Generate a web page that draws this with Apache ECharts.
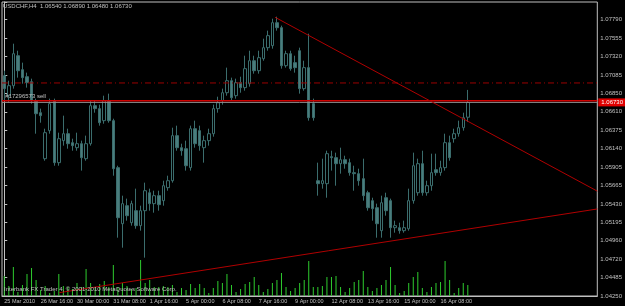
<!DOCTYPE html>
<html><head><meta charset="utf-8">
<script src="https://cdn.jsdelivr.net/npm/echarts@6/dist/echarts.min.js"></script>
<style>html,body{margin:0;padding:0;background:#000;}#c{width:625px;height:306px;}</style>
</head><body><div id="c"></div>
<script>
const chartTitle = 'USDCHF,H4  1.06540 1.06890 1.06480 1.06730';
const footerText = 'Interbank FX Trader 4, \u00A9 2001-2010 MetaQuotes Software Corp.';
const tickLabels = ['25 Mar 2010','26 Mar 16:00','30 Mar 00:00','31 Mar 08:00','1 Apr 16:00','5 Apr 00:00','6 Apr 08:00','7 Apr 16:00','9 Apr 00:00','12 Apr 08:00','13 Apr 16:00','15 Apr 00:00','16 Apr 08:00'];
const priceTicks = ['1.04250','1.04485','1.04720','1.04960','1.05195','1.05430','1.05665','1.05905','1.06140','1.06375','1.06610','1.06850','1.07085','1.07320','1.07555','1.07790'];

const opens = [1.07072,1.06816,1.06944,1.07328,1.07149,1.07059,1.06995,1.06752,1.06598,1.06009,
1.06368,1.06752,1.05958,1.06240,1.06329,1.06214,1.06150,1.06201,1.06009,1.06201,
1.06688,1.06650,1.06496,1.06752,1.06496,1.05894,1.05176,1.05407,1.05189,1.05343,
1.05151,1.05343,1.05573,1.05433,1.05535,1.05471,1.05638,1.05727,1.06304,1.06150,
1.06137,1.05894,1.06393,1.06368,1.06150,1.06240,1.06329,1.06650,1.06752,1.06854,
1.07008,1.06816,1.06983,1.06919,1.06970,1.07264,1.07136,1.07290,1.07431,1.07457,
1.07751,1.07687,1.07200,1.07354,1.07239,1.07392,1.06906,1.07175,1.06714,1.05727,
1.05689,1.05689,1.06035,1.06022,1.05945,1.05996,1.05958,1.05830,1.05817,1.05753,
1.05573,1.05471,1.05381,1.05087,1.05509,1.05471,1.05125,1.05125,1.05087,1.05112,
1.05471,1.05573,1.05945,1.05573,1.05663,1.05868,1.05830,1.05894,1.06214,1.06265,
1.06329,1.06406,1.06540];
const closes = [1.06906,1.06944,1.07354,1.07136,1.07047,1.06983,1.06752,1.06585,1.06560,1.06342,
1.06714,1.05958,1.06265,1.06329,1.06201,1.06176,1.06201,1.06022,1.06201,1.06688,
1.06650,1.06470,1.06752,1.06496,1.05881,1.05253,1.05433,1.05279,1.05433,1.05151,
1.05343,1.05599,1.05433,1.05535,1.05420,1.05663,1.05727,1.06304,1.06150,1.06111,
1.05919,1.06393,1.06201,1.06176,1.06240,1.06329,1.06650,1.06726,1.06854,1.07008,
1.06790,1.06983,1.06919,1.07162,1.07264,1.07136,1.07303,1.07431,1.07585,1.07751,
1.07687,1.07200,1.07354,1.07162,1.07175,1.06906,1.07175,1.06534,1.06534,1.05689,
1.05727,1.06073,1.06022,1.05945,1.05996,1.05945,1.05830,1.05817,1.05727,1.05535,
1.05381,1.05369,1.05176,1.05445,1.05343,1.05125,1.05151,1.05087,1.05125,1.05471,
1.05919,1.05945,1.05573,1.05663,1.05830,1.05830,1.05894,1.06214,1.06022,1.06329,
1.06406,1.06534,1.06730];
const lows = [1.06752,1.06726,1.06906,1.07047,1.06970,1.06919,1.06714,1.06329,1.06470,1.05983,
1.06329,1.05919,1.05919,1.06176,1.06137,1.06111,1.06111,1.05856,1.05983,1.06176,
1.06598,1.06432,1.06457,1.06470,1.05791,1.04997,1.04869,1.05215,1.05151,1.05112,
1.05087,1.04741,1.05343,1.05317,1.05343,1.05407,1.05599,1.05702,1.06111,1.06047,
1.05856,1.05856,1.06150,1.06111,1.05958,1.06176,1.06291,1.06598,1.06701,1.06816,
1.06752,1.06778,1.06854,1.06880,1.06931,1.07098,1.07098,1.07264,1.07392,1.07418,
1.07649,1.07162,1.07175,1.07136,1.07111,1.06842,1.06880,1.06496,1.06496,1.05535,
1.05625,1.05509,1.05856,1.05663,1.05817,1.05881,1.05791,1.05599,1.05663,1.05471,
1.05343,1.05215,1.04997,1.04997,1.05279,1.04997,1.05061,1.05048,1.05061,1.05087,
1.05433,1.05535,1.05535,1.05535,1.05599,1.05791,1.05791,1.05856,1.05983,1.06214,
1.06291,1.06368,1.06480];
const highs = [1.07136,1.07008,1.07482,1.07392,1.07239,1.07111,1.07034,1.06778,1.06650,1.06393,
1.06778,1.06778,1.06342,1.06560,1.06393,1.06265,1.06342,1.06240,1.06304,1.06752,
1.06752,1.06701,1.06816,1.06842,1.06521,1.05919,1.05535,1.05497,1.05471,1.05625,
1.05407,1.05702,1.05625,1.05599,1.05599,1.05727,1.05791,1.06406,1.06432,1.06201,
1.06240,1.06432,1.06496,1.06432,1.06304,1.06393,1.06701,1.06803,1.06906,1.07175,
1.07047,1.07034,1.07059,1.07328,1.07392,1.07328,1.07392,1.07546,1.07649,1.07802,
1.07828,1.07713,1.07392,1.07392,1.07328,1.07431,1.07264,1.07610,1.06778,1.05958,
1.06009,1.06111,1.06111,1.06086,1.06150,1.06047,1.06009,1.05919,1.05881,1.06009,
1.05599,1.05509,1.05433,1.05535,1.05573,1.05497,1.05215,1.05189,1.05215,1.05625,
1.06086,1.06009,1.06111,1.05727,1.06073,1.06073,1.05983,1.06329,1.06304,1.06393,
1.06496,1.06598,1.06890];
const volumes = [2000,1000,2900,400,1100,2200,2800,1600,600,1000,300,500,2200,1000,900,700,1300,900,2700,1300,
900,1200,1500,900,3100,900,1300,1000,700,800,3600,1300,1600,900,900,1000,900,1100,400,800,
600,1200,800,
1200,800,300,800,1500,1300,2200,1100,400,700,1200,1400,1900,1100,400,700,1300,1600,2300,900,
500,800,1300,1600,3500,900,900,1000,1900,1900,2000,900,400,800,1400,1600,2500,900,500,800,
1100,1600,2900,1100,
300,500,1300,1900,2400,800,400,900,1300,1400,3500,1600,300,800,1300,1100];

const slotCount = 131;
const trendDown = [[59.6, 1.07820], [130.5, 1.05593]];
const trendUp = [[12.1, 1.04293], [130.5, 1.05365]];
const stopLevel = 1.06979;
const orderLevel = 1.06752;
const bidLevel = 1.06730;
const orderText = '#17296573 sell';
const bidText = '1.06730';

const slots = [];
for (let i = 0; i < slotCount; i++) slots.push(String(i));
const candles = opens.map((o, i) => [o, closes[i], lows[i], highs[i]]);
const xEnds = [-0.5, slotCount - 0.5];
const levelLine = (lvl) => xEnds.map(x => [x, lvl]);

const txt = '#c0c0c0';
const font = 'Liberation Sans';
const chart = echarts.init(document.getElementById('c'));
chart.setOption({
  animation: false,
  backgroundColor: '#000000',
  title: [
    {text: chartTitle, left: 3, top: 3, padding: 0, textStyle: {color: txt, fontSize: 6, fontWeight: 'normal', fontFamily: font}},
    {text: footerText, left: 4, top: 286, padding: 0, textStyle: {color: txt, fontSize: 6, fontWeight: 'normal', fontFamily: font}}
  ],
  grid: {left: 2, right: 22, top: 2, bottom: 10, show: true, borderColor: '#c0c0c0', borderWidth: 1},
  xAxis: [
    {type: 'category', data: slots, boundaryGap: true,
      axisLine: {lineStyle: {color: '#c0c0c0'}},
      axisTick: {interval: 7, alignWithLabel: true, length: 2, lineStyle: {color: '#c0c0c0'}},
      axisLabel: {interval: 7, align: 'left', margin: 2, color: txt, fontSize: 5.5, fontFamily: font,
        formatter: (v) => tickLabels[Math.round(Number(v) / 8)] || ''},
      splitLine: {show: false}},
    {type: 'value', min: -0.5, max: slotCount - 0.5, show: false}
  ],
  yAxis: [
    {type: 'value', position: 'right', min: 1.0425, max: 1.08016, interval: 0.00236, scale: true,
      axisLine: {show: true, lineStyle: {color: '#c0c0c0'}},
      axisTick: {show: true, length: 3, lineStyle: {color: '#c0c0c0'}},
      splitLine: {show: false},
      axisLabel: {color: txt, fontSize: 6, fontFamily: font, margin: 3,
        formatter: (v) => {
          const k = Math.round((v - 1.0425) / 0.00236);
          if (Math.abs(v - (1.0425 + k * 0.00236)) > 0.0003) return '';
          return priceTicks[k] || '';
        }}},
    {type: 'value', min: 0, max: 29400, show: false}
  ],
  series: [
    {type: 'bar', xAxisIndex: 0, yAxisIndex: 1, data: volumes, barWidth: 1, silent: true,
      itemStyle: {color: '#2ecc2e'}},
    {type: 'candlestick', xAxisIndex: 0, yAxisIndex: 0, data: candles, barWidth: 3, silent: true,
      itemStyle: {color: '#000000', color0: '#4a7d7d', borderColor: '#3b6d6d', borderColor0: '#3b6d6d', borderWidth: 1}},
    {type: 'line', xAxisIndex: 1, yAxisIndex: 0, data: levelLine(stopLevel), symbol: 'none', silent: true,
      lineStyle: {color: '#9a0000', width: 1, type: [6, 3, 1, 3]}},
    {type: 'line', xAxisIndex: 1, yAxisIndex: 0, data: levelLine(bidLevel), symbol: 'none', silent: true,
      lineStyle: {color: '#909090', width: 1},
      endLabel: {show: true, formatter: bidText, distance: 1, color: '#ffffff', backgroundColor: '#e00000',
        padding: [1, 3], fontSize: 6, fontFamily: font}},
    {type: 'line', xAxisIndex: 1, yAxisIndex: 0, data: levelLine(orderLevel), symbol: 'none', silent: true,
      lineStyle: {color: '#d00000', width: 1.5},
      markPoint: {symbol: 'rect', symbolSize: 0.1, silent: true, itemStyle: {color: 'transparent'},
        data: [{coord: [0, orderLevel], label: {show: true, position: [1, -7], formatter: orderText,
          color: txt, fontSize: 6, fontFamily: font}}]}},
    {type: 'line', xAxisIndex: 1, yAxisIndex: 0, data: trendDown, symbol: 'none', silent: true,
      lineStyle: {color: '#b00000', width: 1}},
    {type: 'line', xAxisIndex: 1, yAxisIndex: 0, data: trendUp, symbol: 'none', silent: true,
      lineStyle: {color: '#b00000', width: 1}}
  ]
});
</script></body></html>
